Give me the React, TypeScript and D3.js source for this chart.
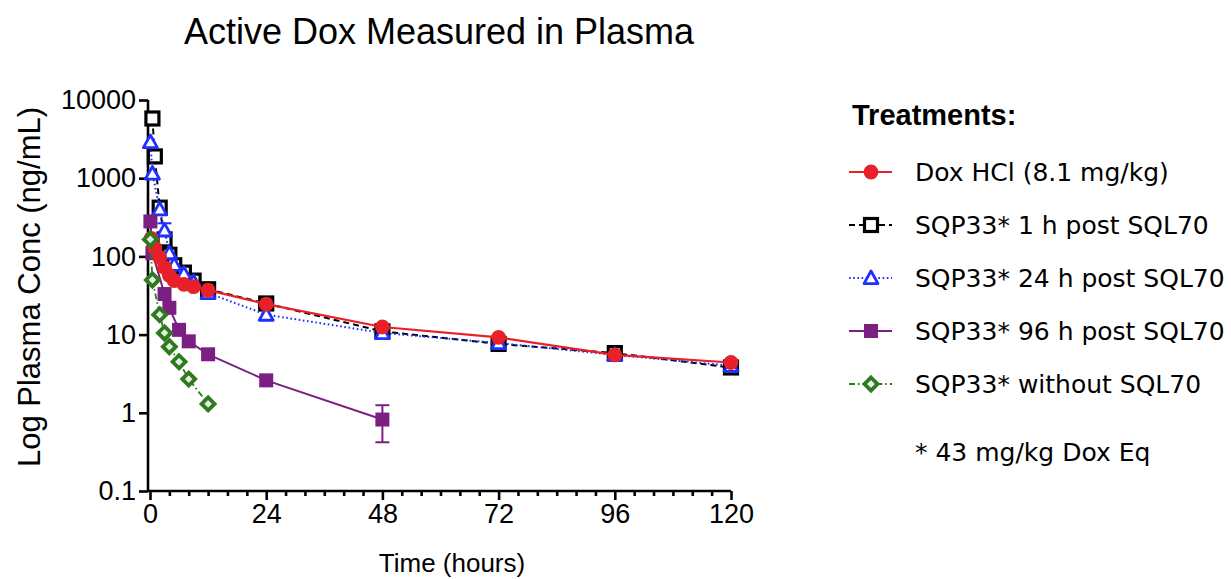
import React, { useRef, useEffect } from "react";
import * as d3 from "d3";

const W = 1231;
const H = 579;

// axis ticks
const timeTicks = [0, 24, 48, 72, 96, 120];
const concTicks = [0.1, 1, 10, 100, 1000, 10000];
const concTickLabels = ["0.1", "1", "10", "100", "1000", "10000"];

// Dox HCl (8.1 mg/kg)
const doxTimes = [0.25, 1, 2, 3, 4, 5, 7, 9, 12, 24, 48, 72, 96, 120];
const doxConc = [170, 128, 97, 72, 57, 49, 44, 41, 37, 24.5, 12.5, 9.2, 5.5, 4.4];

// SQP33* 1 h post SQL70
const sqp1Times = [0.5, 1, 2, 3, 4, 5, 7, 9, 12, 24, 48, 72, 96, 120];
const sqp1Conc = [5800, 1900, 420, 165, 105, 77, 62, 49, 38, 25, 11, 7.6, 5.8, 3.8];

// SQP33* 24 h post SQL70
const sqp24Times = [0.083, 0.5, 2, 3, 4, 5, 7, 9, 12, 24, 48, 72, 96, 120];
const sqp24Conc = [2900, 1150, 400, 215, 110, 78, 60, 47, 34, 18, 10.5, 7.8, 5.5, 4.0];
const sqp24ErrHigh = [null, null, null, 265, null, null, null, null, null, null, null, null, null, null];

// SQP33* 96 h post SQL70
const sqp96Times = [0.083, 0.5, 3, 4, 6, 8, 12, 24, 48];
const sqp96Conc = [280, 110, 33, 22, 11.5, 8.2, 5.6, 2.6, 0.82];
const sqp96ErrLow = [null, null, null, null, null, null, null, null, 0.42];
const sqp96ErrHigh = [null, null, null, null, null, null, null, null, 1.25];

// SQP33* without SQL70
const noSqlTimes = [0.083, 0.5, 2, 3, 4, 6, 8, 12];
const noSqlConc = [165, 50, 18, 10.5, 7, 4.5, 2.7, 1.3];

const legendLabels = [
  "Dox HCl (8.1 mg/kg)",
  "SQP33* 1 h post SQL70",
  "SQP33* 24 h post SQL70",
  "SQP33* 96 h post SQL70",
  "SQP33* without SQL70",
];

const sansFont = "'Liberation Sans', Arial, Helvetica, sans-serif";
const legendFont = "'DejaVu Sans', sans-serif";

const drawMarker = (g: any, shape: string, x: number, y: number, color: string) => {
  if (shape === "circle") {
    g.append("circle").attr("cx", x).attr("cy", y).attr("r", 7.4).attr("fill", color);
  } else if (shape === "openSquare") {
    g.append("rect").attr("x", x - 6.5).attr("y", y - 6.5).attr("width", 13).attr("height", 13)
      .attr("fill", "white").attr("stroke", color).attr("stroke-width", 3.2);
  } else if (shape === "openTriangle") {
    const s = 7;
    g.append("path")
      .attr("d", `M${x},${y - s}L${x + s},${y + s * 0.8}L${x - s},${y + s * 0.8}Z`)
      .attr("fill", "white").attr("stroke", color).attr("stroke-width", 2.8)
      .attr("stroke-linejoin", "round");
  } else if (shape === "square") {
    g.append("rect").attr("x", x - 7).attr("y", y - 7).attr("width", 14).attr("height", 14)
      .attr("fill", color);
  } else if (shape === "diamond") {
    const s = 6.5;
    g.append("path")
      .attr("d", `M${x},${y - s}L${x + s},${y}L${x},${y + s}L${x - s},${y}Z`)
      .attr("fill", "#e6efe3").attr("stroke", color).attr("stroke-width", 3.8);
  }
};

const App = () => {
  const svgRef = useRef<SVGSVGElement>(null);

  useEffect(() => {
    const svg = d3.select(svgRef.current);
    svg.selectAll("*").remove();

    const x = d3.scaleLinear().domain([0, 120]).range([150, 731]);
    const y = d3.scaleLog().domain([0.1, 10000]).range([491, 100]);

    const series = [
      { times: doxTimes, conc: doxConc, color: "#e8202a", shape: "circle", dash: null, width: 2.2, lo: null, hi: null },
      { times: sqp1Times, conc: sqp1Conc, color: "#000000", shape: "openSquare", dash: "6,4", width: 2, lo: null, hi: null },
      { times: sqp24Times, conc: sqp24Conc, color: "#1f2fff", shape: "openTriangle", dash: "1.6,2.6", width: 2, lo: null, hi: sqp24ErrHigh },
      { times: sqp96Times, conc: sqp96Conc, color: "#7b1f83", shape: "square", dash: null, width: 2, lo: sqp96ErrLow, hi: sqp96ErrHigh },
      { times: noSqlTimes, conc: noSqlConc, color: "#2f7a1f", shape: "diamond", dash: "6,3,1.6,3", width: 1.8, lo: null, hi: null },
    ];

    // title
    svg.append("text")
      .attr("x", 439).attr("y", 44)
      .attr("text-anchor", "middle")
      .attr("font-family", sansFont).attr("font-size", 36)
      .text("Active Dox Measured in Plasma");

    // axes
    const yAxis = svg.append("g")
      .attr("transform", "translate(148,0)")
      .call(d3.axisLeft(y).tickValues(concTicks).tickFormat((d, i) => concTickLabels[i]).tickSize(9).tickSizeOuter(0).tickPadding(3));
    const xAxis = svg.append("g")
      .attr("transform", "translate(0,491)")
      .call(d3.axisBottom(x).tickValues(timeTicks).tickSize(9).tickSizeOuter(0).tickPadding(4));
    const minor = svg.append("g")
      .attr("transform", "translate(0,491)")
      .call(d3.axisBottom(x).tickValues(d3.range(4, 120, 4).filter(t => t % 24 !== 0)).tickSize(5).tickFormat(() => ""));
    minor.select(".domain").remove();

    [yAxis, xAxis, minor].forEach(a => {
      a.selectAll("path, line").attr("stroke", "#000").attr("stroke-width", 2.6);
      a.selectAll("text").attr("font-family", sansFont).attr("font-size", 27).attr("fill", "#000");
    });
    xAxis.select(".domain").attr("d", `M148,0H731`);
    yAxis.select(".domain").attr("d", `M0,491V100`);

    // axis labels
    svg.append("text")
      .attr("transform", "translate(40,287) rotate(-90)")
      .attr("text-anchor", "middle")
      .attr("font-family", sansFont).attr("font-size", 31)
      .text("Log Plasma Conc (ng/mL)");
    svg.append("text")
      .attr("x", 452).attr("y", 572)
      .attr("text-anchor", "middle")
      .attr("font-family", sansFont).attr("font-size", 26)
      .text("Time (hours)");

    const plot = svg.append("g");
    const line = d3.line<[number, number]>().x(d => x(d[0])).y(d => y(d[1]));

    // draw order: black, blue, purple, red, green
    const order = [1, 2, 3, 0, 4];
    order.forEach(i => {
      const s = series[i];
      const pts: [number, number][] = s.times.map((t, j) => [t, s.conc[j]]);
      const g = plot.append("g");
      g.append("path")
        .attr("d", line(pts))
        .attr("fill", "none")
        .attr("stroke", s.color)
        .attr("stroke-width", s.width)
        .attr("stroke-dasharray", s.dash);
      // error bars
      s.times.forEach((t, j) => {
        const hi = s.hi ? s.hi[j] : null;
        const lo = s.lo ? s.lo[j] : null;
        if (hi == null && lo == null) return;
        const cx = x(t);
        const top = y(hi ?? s.conc[j]);
        const bot = y(lo ?? s.conc[j]);
        g.append("line").attr("x1", cx).attr("x2", cx).attr("y1", top).attr("y2", bot)
          .attr("stroke", s.color).attr("stroke-width", 2);
        if (hi != null) g.append("line").attr("x1", cx - 7).attr("x2", cx + 7).attr("y1", top).attr("y2", top)
          .attr("stroke", s.color).attr("stroke-width", 2);
        if (lo != null) g.append("line").attr("x1", cx - 7).attr("x2", cx + 7).attr("y1", bot).attr("y2", bot)
          .attr("stroke", s.color).attr("stroke-width", 2);
      });
      pts.forEach(p => drawMarker(g, s.shape, x(p[0]), y(p[1]), s.color));
    });

    // legend
    const legend = svg.append("g");
    legend.append("text")
      .attr("x", 852).attr("y", 125)
      .attr("font-family", sansFont).attr("font-size", 29).attr("font-weight", "bold")
      .text("Treatments:");
    series.forEach((s, i) => {
      const cy = 172 + i * 53;
      legend.append("line")
        .attr("x1", 849).attr("x2", 892).attr("y1", cy).attr("y2", cy)
        .attr("stroke", s.color).attr("stroke-width", s.width)
        .attr("stroke-dasharray", s.dash);
      drawMarker(legend, s.shape, 871, cy, s.color);
      legend.append("text")
        .attr("x", 915).attr("y", cy + 9)
        .attr("font-family", legendFont).attr("font-size", 25)
        .text(legendLabels[i]);
    });
    legend.append("text")
      .attr("x", 915).attr("y", 461)
      .attr("font-family", legendFont).attr("font-size", 25)
      .text("* 43 mg/kg Dox Eq");
  }, []);

  return (
    <svg ref={svgRef} width={W} height={H} style={{ position: "absolute", left: 0, top: 0, background: "#fff" }}>
    </svg>
  );
};

export default App;
